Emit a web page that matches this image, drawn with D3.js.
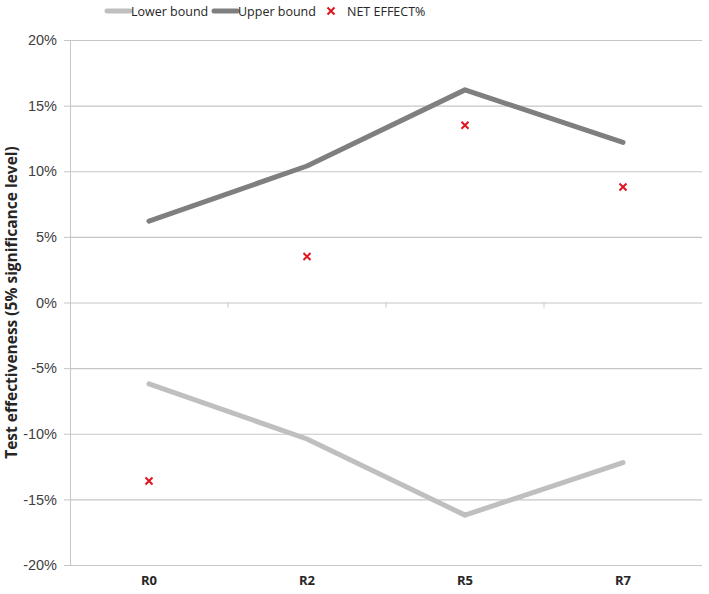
<!DOCTYPE html>
<html>
<head>
<meta charset="utf-8">
<script src="https://cdn.jsdelivr.net/npm/d3@7"></script>
<style>
  body { margin: 0; background: #fff; }
  svg { font-family: "Open Sans", "Liberation Sans", sans-serif; }
</style>
</head>
<body>
<div id="chart"></div>
<script>
// data
const categories = ["R0", "R2", "R5", "R7"];
const lowerBound = [-6.2, -10.4, -16.2, -12.2];
const upperBound = [6.2, 10.4, 16.2, 12.2];
const netEffect = [-13.6, 3.5, 13.5, 8.8];
const yTicks = [-20, -15, -10, -5, 0, 5, 10, 15, 20];

const config = {
    width: 709,
    height: 594,
    margin: { top: 40, left: 70, bottom: 29, right: 7 },
    lowerColor: "#bfbfbf",
    upperColor: "#7f7f7f",
    gridColor: "#c6c6c6",
    markColor: "#e0141e"
}

const svg = d3.select("#chart")
    .append("svg")
    .attr("width", config.width)
    .attr("height", config.height)

const scale_x = d3.scaleBand()
    .domain(categories)
    .range([config.margin.left, config.width - config.margin.right])

const scale_y = d3.scaleLinear()
    .domain([-20, 20])
    .range([config.height - config.margin.bottom, config.margin.top])

// gridlines + y axis
const axis_y = d3.axisLeft(scale_y)
    .tickValues(yTicks)
    .tickSize(6)
    .tickFormat(d => d + "%")
const g_axisY = svg.append("g")
    .attr("transform", `translate(${config.margin.left}, 0)`)
    .call(axis_y)
g_axisY.select(".domain").attr("stroke", config.gridColor)
g_axisY.selectAll(".tick line").attr("stroke", config.gridColor)
g_axisY.selectAll(".tick text")
    .attr("x", -13)
    .attr("font-size", "14.5px")
    .attr("fill", "#404040")
    .attr("font-family", null)

svg.append("g")
    .selectAll("line")
    .data(yTicks)
    .join("line")
    .attr("x1", config.margin.left)
    .attr("x2", config.width - config.margin.right)
    .attr("y1", d => scale_y(d) + 0.5)
    .attr("y2", d => scale_y(d) + 0.5)
    .attr("stroke", config.gridColor)
    .attr("stroke-width", 1.2)

// category ticks on the zero line
const boundaries = categories.slice(1).map(c => scale_x(c))
svg.append("g")
    .selectAll("line")
    .data(boundaries)
    .join("line")
    .attr("x1", d => d)
    .attr("x2", d => d)
    .attr("y1", scale_y(0))
    .attr("y2", scale_y(0) + 5)
    .attr("stroke", config.gridColor)

// category labels at the bottom
svg.append("g")
    .selectAll("text")
    .data(categories)
    .join("text")
    .attr("x", d => scale_x(d) + scale_x.bandwidth() / 2)
    .attr("y", config.height - 9)
    .attr("text-anchor", "middle")
    .attr("font-size", "13px")
    .attr("font-weight", "bold")
    .attr("fill", "#262626")
    .text(d => d)

// y title
svg.append("text")
    .attr("transform", `translate(17, ${scale_y(0)}) rotate(-90)`)
    .attr("text-anchor", "middle")
    .attr("font-size", "15.5px")
    .attr("font-weight", "bold")
    .attr("fill", "#262626")
    .text("Test effectiveness (5% significance level)")

// lines
const cx = i => scale_x(categories[i]) + scale_x.bandwidth() / 2
const line = d3.line()
    .x((d, i) => cx(i))
    .y(d => scale_y(d))

svg.append("path")
    .datum(lowerBound)
    .attr("d", line)
    .attr("fill", "none")
    .attr("stroke", config.lowerColor)
    .attr("stroke-width", 5)
    .attr("stroke-linecap", "round")
    .attr("stroke-linejoin", "round")

svg.append("path")
    .datum(upperBound)
    .attr("d", line)
    .attr("fill", "none")
    .attr("stroke", config.upperColor)
    .attr("stroke-width", 5)
    .attr("stroke-linecap", "round")
    .attr("stroke-linejoin", "round")

// net effect markers
const cross = (x, y, s) => `M${x - s},${y - s}L${x + s},${y + s}M${x - s},${y + s}L${x + s},${y - s}`
svg.append("g")
    .selectAll("path")
    .data(netEffect)
    .join("path")
    .attr("d", (d, i) => cross(cx(i), scale_y(d), 3.5))
    .attr("stroke", config.markColor)
    .attr("stroke-width", 2)

// legend
const legend = svg.append("g").attr("font-size", "12.5px").attr("fill", "#262626")
legend.append("line")
    .attr("x1", 107).attr("x2", 130).attr("y1", 11).attr("y2", 11)
    .attr("stroke", config.lowerColor).attr("stroke-width", 5).attr("stroke-linecap", "round")
legend.append("text").attr("x", 131).attr("y", 16).text("Lower bound")
legend.append("line")
    .attr("x1", 214).attr("x2", 237).attr("y1", 11).attr("y2", 11)
    .attr("stroke", config.upperColor).attr("stroke-width", 5).attr("stroke-linecap", "round")
legend.append("text").attr("x", 238).attr("y", 16).text("Upper bound")
legend.append("path")
    .attr("d", cross(331, 11, 3.5))
    .attr("stroke", config.markColor).attr("stroke-width", 2)
legend.append("text").attr("x", 347).attr("y", 16).text("NET EFFECT%")
</script>
</body>
</html>
